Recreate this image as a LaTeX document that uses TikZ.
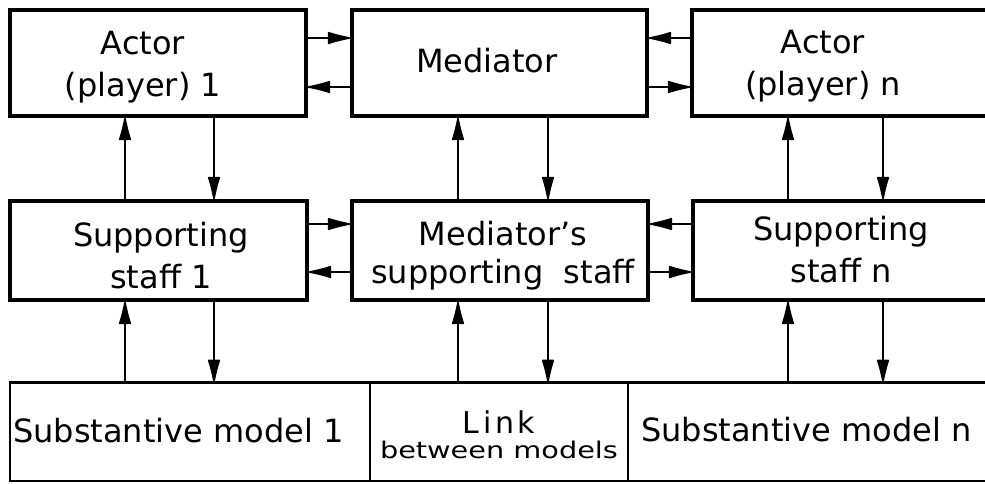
\documentclass[tikz,border=0pt]{standalone}
\usepackage{fontspec}
\setmainfont{DejaVu Sans}
\usetikzlibrary{arrows.meta}
\begin{document}
\begin{tikzpicture}[x=1pt,y=-1pt,
  frame/.style={draw, line width=3.3pt, rectangle, inner sep=0pt},
  cell/.style={draw, line width=1.6pt, rectangle, inner sep=0pt, minimum height=98pt},
  lbl/.style={inner sep=0pt, align=center, font=\fontsize{32}{42}\selectfont},
  flow/.style={line width=1.7pt, -{Latex[length=27pt,width=13pt,round]}},
]
\useasboundingbox (0,0) rectangle (985,483);
\fill[white] (0,0) rectangle (985,483);
\clip (0,0) rectangle (985,483);

% top row: actors and mediator
\node[frame, minimum width=296, minimum height=106] (a1) at (158,63) {};
\node[frame, minimum width=295, minimum height=106] (med) at (499.5,63) {};
\node[frame, minimum width=320, minimum height=106] (an) at (852,63) {};

% middle row: supporting staffs
\node[frame, minimum width=297, minimum height=99] (s1) at (158.5,250.5) {};
\node[frame, minimum width=296, minimum height=99] (ms) at (500,250.5) {};
\node[frame, minimum width=320, minimum height=99] (sn) at (853,250.5) {};

% bottom row: models
\node[cell, minimum width=360] (m1) at (190,432) {};
\node[cell, minimum width=258] (lk) at (499,432) {};
\node[cell, minimum width=382] (mn) at (819,432) {};
\draw[line width=3.3pt] (m1.north west) -- (mn.north east);

% texts
\node[lbl] (a1-t) at (143,67) {Actor\\(player) 1};
\node[lbl] (med-t) at (487,61) {Mediator};
\node[lbl] (an-t) at (823,66) {Actor\\(player) n};
\node[lbl] (s1-t) at (161,256) {Supporting\\staff 1};
\node[lbl, font=\fontsize{32}{38}\selectfont] (ms-t) at (503,256) {Mediator's\\supporting~~staff};
\node[lbl] (sn-t) at (841,250) {Supporting\\staff n};
\node[lbl, anchor=west] (m1-t) at (13,431) {Substantive model 1};
\node[lbl, anchor=west] (mn-t) at (641,430) {Substantive model n};
\node[lbl, font=\fontsize{23}{25}\selectfont] (lk-t) at (499,435)
  {{\fontsize{30}{30}\selectfont\addfontfeature{LetterSpace=12}Link}\\{\addfontfeature{FakeStretch=1.25}between models}};

% connector positions
\coordinate (xu1) at (125,0);
\coordinate (xd1) at (214,0);
\coordinate (xu2) at (458,0);
\coordinate (xd2) at (548,0);
\coordinate (xu3) at (788,0);
\coordinate (xd3) at (883,0);
\coordinate (yh1) at (0,38);
\coordinate (yh2) at (0,87);
\coordinate (yh3) at (0,224);
\coordinate (yh4) at (0,272);

% vertical flows
\draw[flow] (s1.north -| xu1) -- (a1.south -| xu1);
\draw[flow] (a1.south -| xd1) -- (s1.north -| xd1);
\draw[flow] (ms.north -| xu2) -- (med.south -| xu2);
\draw[flow] (med.south -| xd2) -- (ms.north -| xd2);
\draw[flow] (sn.north -| xu3) -- (an.south -| xu3);
\draw[flow] (an.south -| xd3) -- (sn.north -| xd3);
\draw[flow] (m1.north -| xu1) -- (s1.south -| xu1);
\draw[flow] (s1.south -| xd1) -- (m1.north -| xd1);
\draw[flow] (lk.north -| xu2) -- (ms.south -| xu2);
\draw[flow] (ms.south -| xd2) -- (lk.north -| xd2);
\draw[flow] (mn.north -| xu3) -- (sn.south -| xu3);
\draw[flow] (sn.south -| xd3) -- (mn.north -| xd3);

% horizontal flows
\draw[flow] (a1.east |- yh1) -- (med.west |- yh1);
\draw[flow] (med.west |- yh2) -- (a1.east |- yh2);
\draw[flow] (an.west |- yh1) -- (med.east |- yh1);
\draw[flow] (med.east |- yh2) -- (an.west |- yh2);
\draw[flow] (s1.east |- yh3) -- (ms.west |- yh3);
\draw[flow] (ms.west |- yh4) -- (s1.east |- yh4);
\draw[flow] (sn.west |- yh3) -- (ms.east |- yh3);
\draw[flow] (ms.east |- yh4) -- (sn.west |- yh4);
\end{tikzpicture}
\end{document}
